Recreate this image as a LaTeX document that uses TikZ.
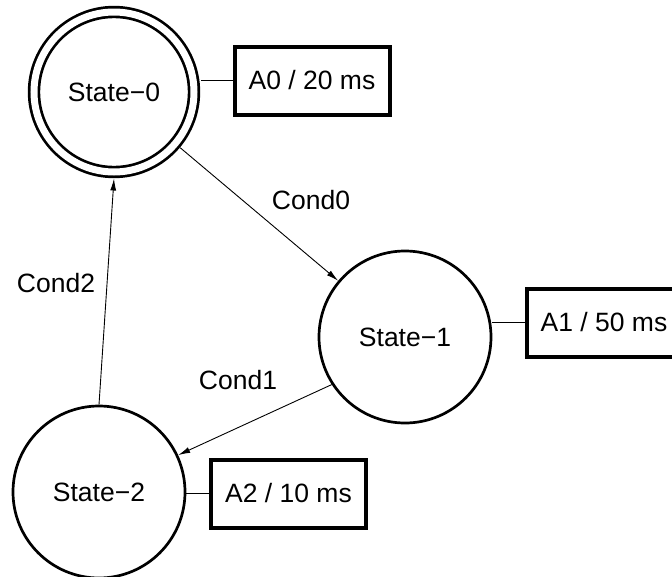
\documentclass[tikz,border=0pt]{standalone}
\usepackage{fontspec}
\setmainfont{Liberation Sans}
\usetikzlibrary{arrows.meta}

\begin{document}
\begin{tikzpicture}[x=1pt, y=-1pt,
  every node/.style={font=\fontsize{26.5}{30}\selectfont},
  state/.style={circle, draw, line width=2.7pt, inner sep=0pt, minimum size=172pt},
  action/.style={draw, line width=4pt, inner sep=0pt, minimum width=155pt, minimum height=68pt},
  trans/.style={-{Latex[length=12pt, width=6pt]}, line width=0.9pt}]
  \useasboundingbox (0,0) rectangle (672,576);

  % States
  \node[state, double, double distance=7pt, minimum size=160pt, outer sep=6.5pt] (S0) at (114,92) {State−0};
  \node[state] (S1) at (405,337) {State−1};
  \node[state] (S2) at (99,492) {State−2};

  % Actions with their times
  \node[action] (A0) at (312,80.5) {A0 / 20 ms};
  \node[action] (A1) at (604,322.5) {A1 / 50 ms};
  \node[action] (A2) at (288.5,493.5) {A2 / 10 ms};
  \draw[line width=1pt] (A0.west) -- (A0.west -| S0.east);
  \draw[line width=1pt] (A1.west) -- (A1.west -| S1.east);
  \draw[line width=1pt] (A2.west) -- (A2.west -| S2.east);

  % Transitions
  \draw[trans] (S0) -- (S1);
  \draw[trans] (S1.213) -- (S2.25);
  \draw[trans] (S2.north) -- (S0.south);
  \node (C0) at (311,200) {Cond0};
  \node (C1) at (238,380) {Cond1};
  \node (C2) at (56,283) {Cond2};
\end{tikzpicture}
\end{document}
